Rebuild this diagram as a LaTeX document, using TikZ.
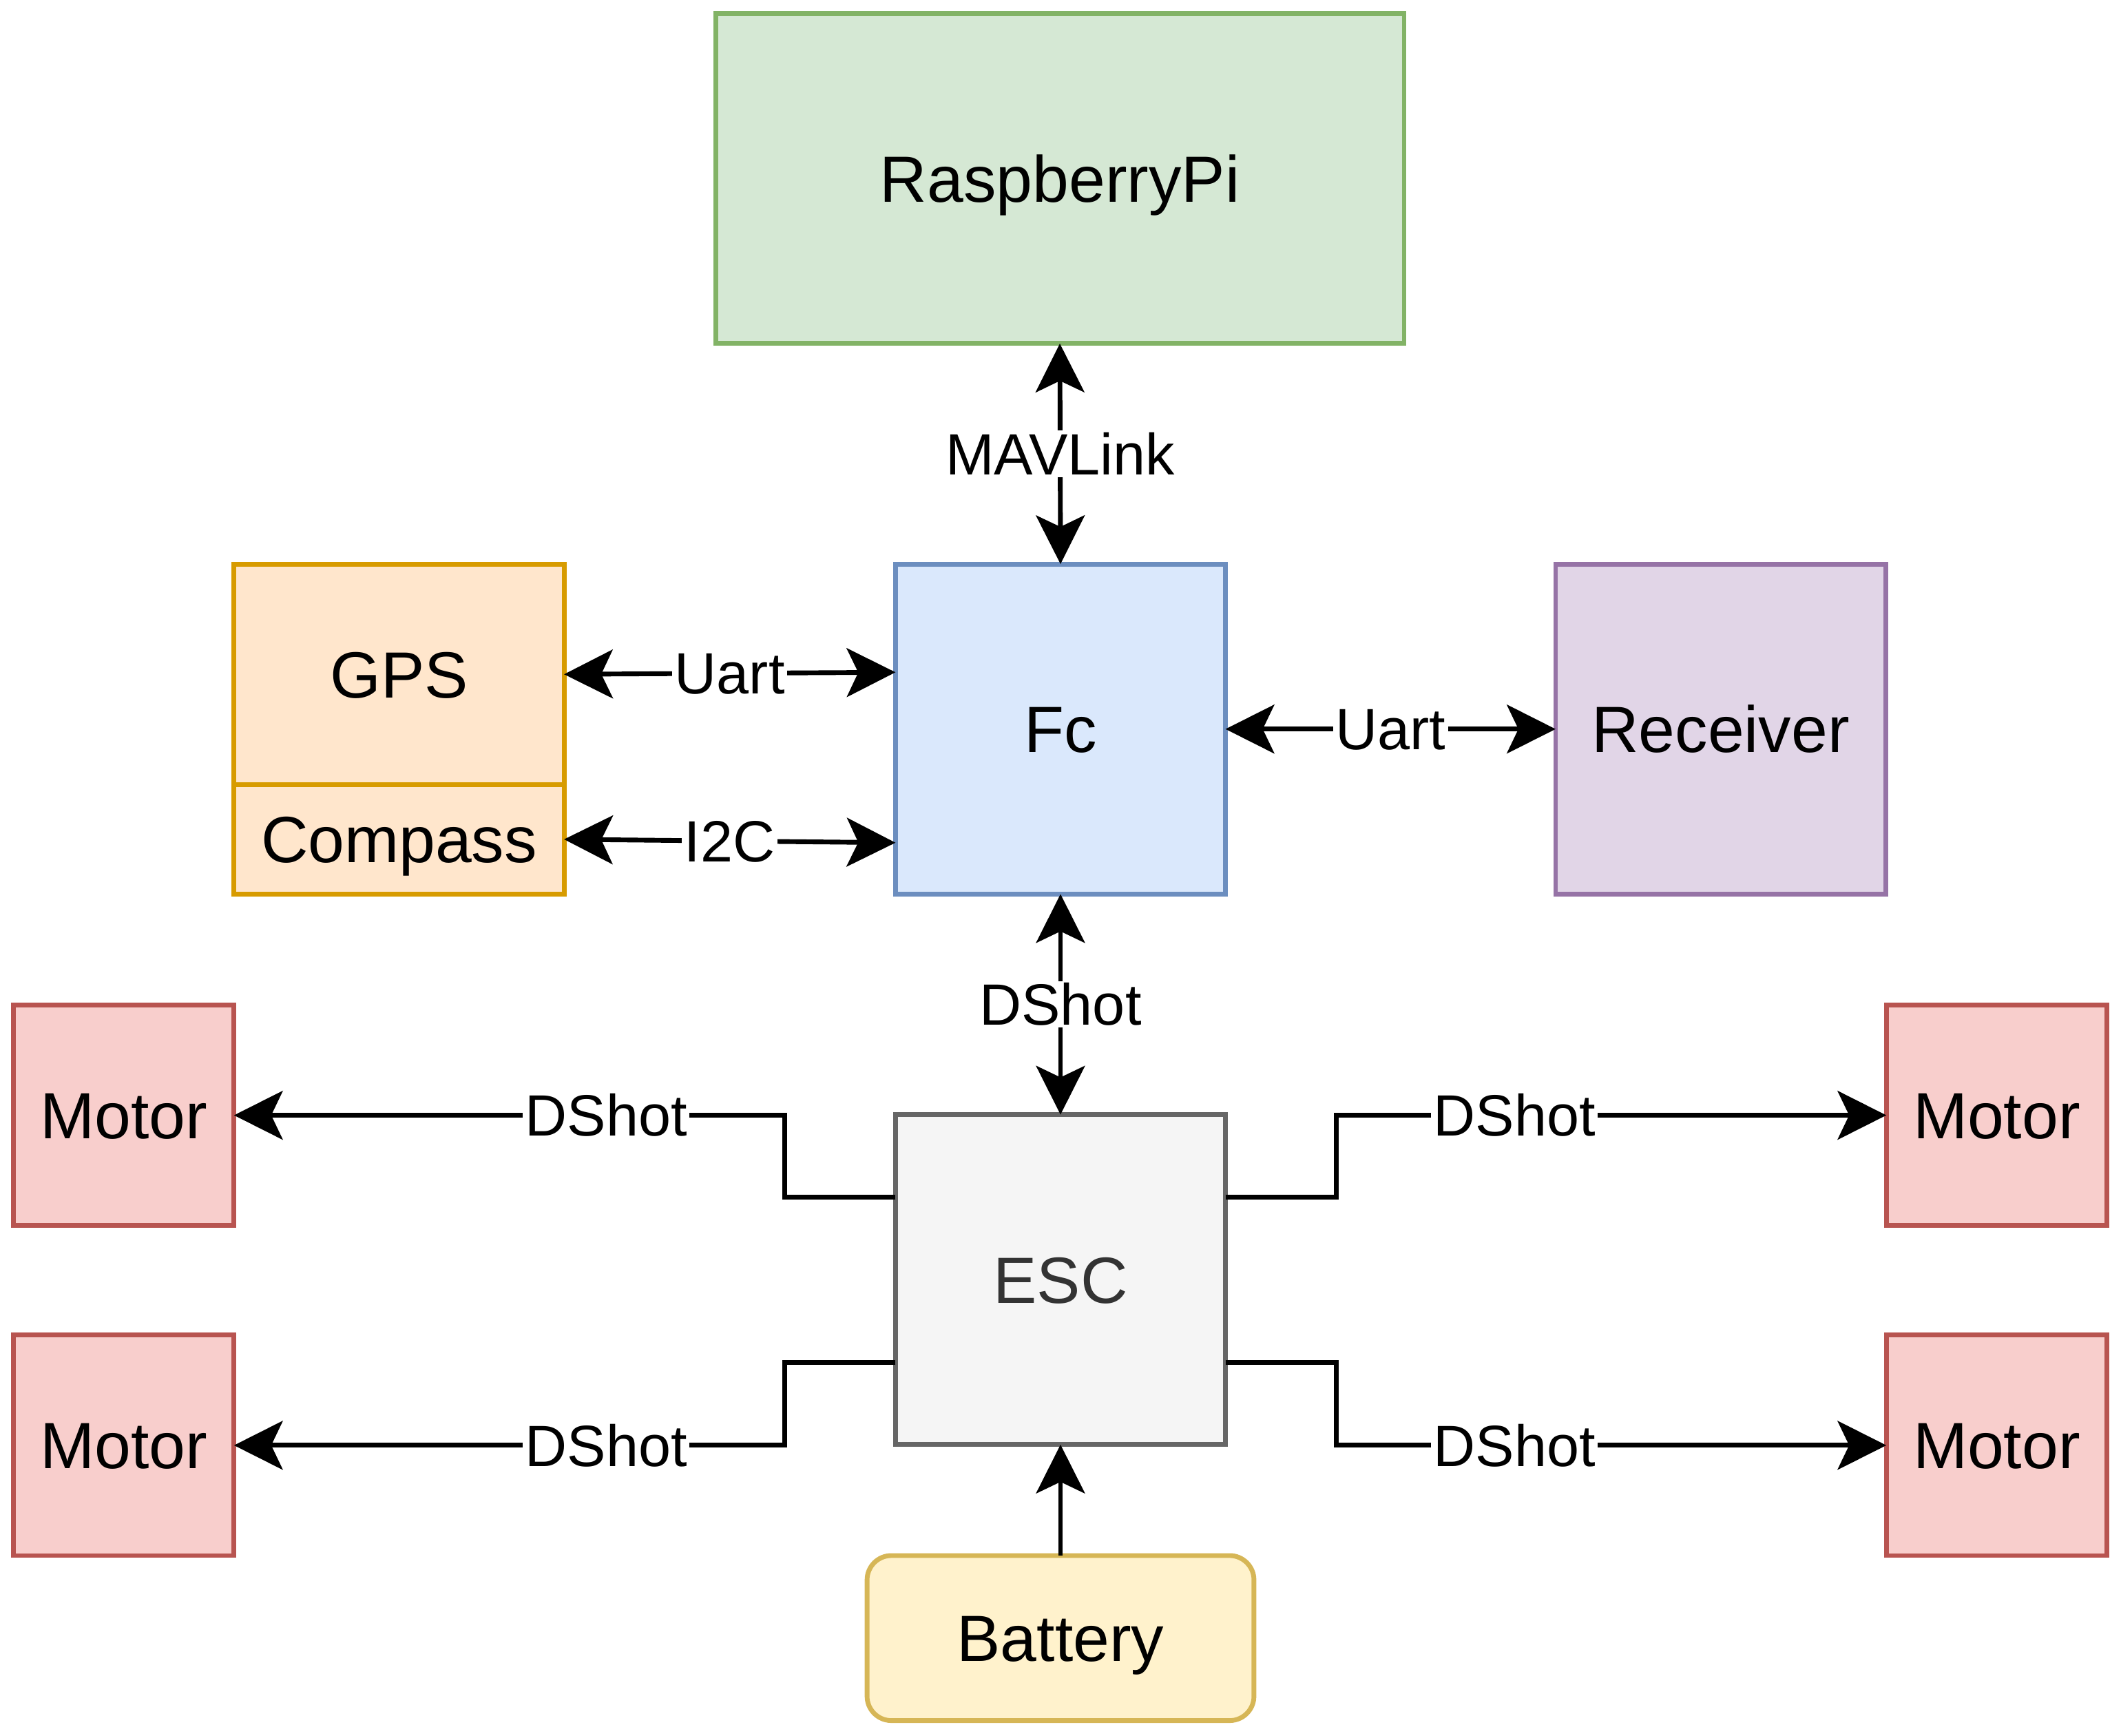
\documentclass[tikz,border=0pt]{standalone}
\usepackage{fontspec}
\setmainfont{Liberation Sans}
\usetikzlibrary{arrows.meta}
\usetikzlibrary{positioning}
\definecolor{rpifill}{HTML}{D5E8D4}\definecolor{rpidraw}{HTML}{82B366}
\definecolor{fcfill}{HTML}{DAE8FC}\definecolor{fcdraw}{HTML}{6C8EBF}
\definecolor{gpsfill}{HTML}{FFE6CC}\definecolor{gpsdraw}{HTML}{D79B00}
\definecolor{rxfill}{HTML}{E1D5E7}\definecolor{rxdraw}{HTML}{9673A6}
\definecolor{escfill}{HTML}{F5F5F5}\definecolor{escdraw}{HTML}{666666}
\definecolor{motfill}{HTML}{F8CECC}\definecolor{motdraw}{HTML}{B85450}
\definecolor{batfill}{HTML}{FFF2CC}\definecolor{batdraw}{HTML}{D6B656}

\begin{document}
\begin{tikzpicture}[
    >={Stealth[length=0.72cm,width=0.72cm,inset=0.17cm]},
    block/.style={draw, rectangle, line width=2pt, inner sep=0pt, outer sep=0pt,
        minimum width=4.88cm, minimum height=4.88cm,
        text height=19.7pt, text depth=0pt, font=\fontsize{27.5}{33}\selectfont},
    motor/.style={block, fill=motfill, draw=motdraw, minimum width=3.26cm, minimum height=3.26cm},
    link/.style={line width=2pt},
    lbl/.style={fill=white, inner sep=1pt, text height=17.5pt, text depth=0pt,
        font=\fontsize{24.5}{29}\selectfont}
  ]
    \useasboundingbox (0,0) rectangle (31.36,-25.66);
    % flight controller and its peripherals
    \node[block, fill=rpifill, draw=rpidraw, minimum width=10.18cm] (rpi) at (15.67,-2.64) {RaspberryPi};
    \node[block, fill=fcfill, draw=fcdraw] (fc) at (15.68,-10.78) {Fc};
    \node[block, fill=gpsfill, draw=gpsdraw, minimum height=3.26cm] (gps) at (5.9,-9.97) {GPS};
    \node[block, fill=gpsfill, draw=gpsdraw, minimum height=1.62cm] (compass) at (5.9,-12.41) {Compass};
    \node[block, fill=rxfill, draw=rxdraw] (receiver) at (25.44,-10.78) {Receiver};
    \node[block, fill=escfill, draw=escdraw, text=black!80] (esc) at (15.68,-18.92) {ESC};
    \node[motor] (motorTL) at (1.83,-16.49) {Motor};
    \node[motor] (motorBL) at (1.83,-21.37) {Motor};
    \node[motor] (motorTR) at (29.52,-16.49) {Motor};
    \node[motor] (motorBR) at (29.52,-21.37) {Motor};
    \node[block, fill=batfill, draw=batdraw, rounded corners=0.36cm, minimum width=5.72cm, minimum height=2.44cm] (battery) at (15.68,-24.22) {Battery};

    \draw[link,<->] (rpi.south) -- (fc.north) node[lbl, midway] {MAVLink};
    \draw[link,<->] (gps.east) -- ([yshift=0.84cm]fc.west) node[lbl, midway] {Uart};
    \draw[link,<->] (compass.east) -- ([yshift=-1.68cm]fc.west) node[lbl, midway] {I2C};
    \draw[link,<->] (fc.east) -- (receiver.west) node[lbl, midway] {Uart};
    \draw[link,<->] (fc.south) -- (esc.north) node[lbl, midway] {DShot};

    % esc outputs
    \draw[link,->] ([yshift=1.22cm]esc.west) -- ++(-1.64,0) |- (motorTL.east) node[lbl, pos=0.662] {DShot};
    \draw[link,->] ([yshift=-1.22cm]esc.west) -- ++(-1.64,0) |- (motorBL.east) node[lbl, pos=0.662] {DShot};
    \draw[link,->] ([yshift=1.22cm]esc.east) -- ++(1.64,0) |- (motorTR.west) node[lbl, pos=0.662] {DShot};
    \draw[link,->] ([yshift=-1.22cm]esc.east) -- ++(1.64,0) |- (motorBR.west) node[lbl, pos=0.662] {DShot};
    \draw[link,->] (battery.north) -- (esc.south);
\end{tikzpicture}
\end{document}
